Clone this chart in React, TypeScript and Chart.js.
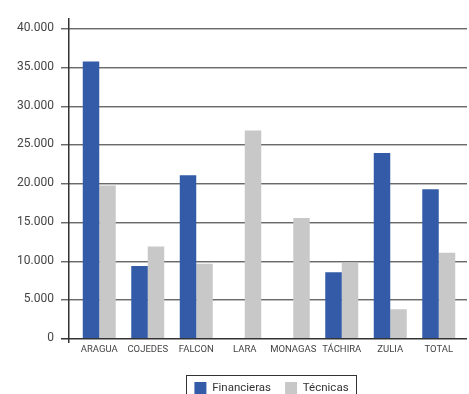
import React, { useEffect, useRef } from "react";
import { Chart, registerables } from "chart.js";

Chart.register(...registerables);

const categories = ["ARAGUA", "COJEDES", "FALCON", "LARA", "MONAGAS", "TÁCHIRA", "ZULIA", "TOTAL"];
const financieras = [35700, 9300, 21000, 0, 0, 8500, 23900, 19200];
const tecnicas = [19700, 11800, 9600, 26800, 15500, 9700, 3700, 11000];
const seriesNames = ["Financieras", "Técnicas"];
const yTicks = [0, 5000, 10000, 15000, 20000, 25000, 30000, 35000, 40000];

const BLUE = "#335BA8";
const GRAY = "#C8C8C9";
const FONT = "Roboto, 'Liberation Sans', sans-serif";

const fmt = (v: number) => (v === 0 ? "0" : v.toLocaleString("en-US").replace(/,/g, "."));

const axesPlugin = {
  id: "customAxes",
  beforeDatasetsDraw(chart: any) {
    const { ctx, chartArea, scales } = chart;
    const y = scales.y;
    const axisX = chartArea.left - 7;
    const left = axisX - 7;
    const right = chartArea.right + 4;
    ctx.save();
    yTicks.forEach((v) => {
      if (v === 0) return;
      const py = Math.round(y.getPixelForValue(v));
      ctx.fillStyle = "#6a6a6a";
      ctx.fillRect(left, py, right - left, 1);
      ctx.fillStyle = "#bdbdbd";
      ctx.fillRect(left, py + 1, right - left, 1);
    });
    ctx.restore();
  },
  afterDatasetsDraw(chart: any) {
    const { ctx, chartArea, scales } = chart;
    const y = scales.y;
    const axisX = chartArea.left - 7;
    const left = axisX - 7;
    const right = chartArea.right + 4;
    const p0 = Math.round(y.getPixelForValue(0));
    const pTop = Math.round(y.getPixelForValue(40000));
    ctx.save();
    ctx.fillStyle = "#333";
    ctx.fillRect(left, p0, right - left, 1.5);
    ctx.fillRect(axisX, pTop - 10, 1.5, p0 - pTop + 15);
    ctx.restore();
  },
  afterLayout(chart: any) {
    const lg = chart.legend;
    if (lg) {
      lg.left += 40;
      lg.right += 40;
    }
  },
  afterDraw(chart: any) {
    const lg = chart.legend;
    if (!lg || !lg.legendHitBoxes || !lg.legendHitBoxes.length) return;
    const hb = lg.legendHitBoxes;
    const first = hb[0];
    const last = hb[hb.length - 1];
    const l = first.left - 8;
    const r = last.left + last.width + 8;
    const t = first.top - 7;
    const b = first.top + first.height + 7;
    const { ctx } = chart;
    ctx.save();
    ctx.strokeStyle = "#333";
    ctx.lineWidth = 1;
    ctx.strokeRect(Math.round(l) + 0.5, Math.round(t) + 0.5, Math.round(r - l), Math.round(b - t));
    ctx.restore();
  },
};

export default function App() {
  const ref = useRef<HTMLCanvasElement>(null);

  useEffect(() => {
    if (!ref.current) return;
    const chart = new Chart(ref.current, {
      type: "bar",
      data: {
        labels: categories,
        datasets: [
          {
            label: seriesNames[0],
            data: financieras,
            backgroundColor: BLUE,
            borderWidth: 0,
            categoryPercentage: 0.68,
            barPercentage: 1,
          },
          {
            label: seriesNames[1],
            data: tecnicas,
            backgroundColor: GRAY,
            borderWidth: 0,
            categoryPercentage: 0.68,
            barPercentage: 1,
          },
        ],
      },
      options: {
        responsive: false,
        animation: false,
        devicePixelRatio: 1,
        layout: { padding: { left: 0, right: 6, top: 18, bottom: 0 } },
        plugins: {
          title: { display: false },
          tooltip: { enabled: false },
          legend: {
            display: true,
            position: "bottom",
            labels: {
              boxWidth: 12,
              boxHeight: 12,
              padding: 14,
              color: "#333",
              font: { family: FONT, size: 11.5 },
            },
          },
        },
        scales: {
          x: {
            offset: true,
            grid: { display: false, drawTicks: false },
            border: { display: false },
            ticks: {
              color: "#444",
              font: { family: FONT, size: 9.5 },
              padding: 6,
              maxRotation: 0,
              autoSkip: false,
            },
            afterFit: (s: any) => {
              s.height = 30;
            },
          },
          y: {
            min: 0,
            max: 40000,
            grid: { display: false, drawTicks: false },
            border: { display: false },
            ticks: {
              stepSize: 5000,
              color: "#444",
              font: { family: FONT, size: 12 },
              padding: 21,
              callback: (v: any) => fmt(Number(v)),
            },
            afterFit: (s: any) => {
              s.width = 75;
            },
          },
        },
      },
      plugins: [axesPlugin],
    });
    return () => chart.destroy();
  }, []);

  return (
    <div style={{ position: "absolute", left: 0, top: 0, width: 469, height: 404, background: "#fff" }}>
      <canvas ref={ref} width={469} height={404} style={{ display: "block" }} />
    </div>
  );
}
